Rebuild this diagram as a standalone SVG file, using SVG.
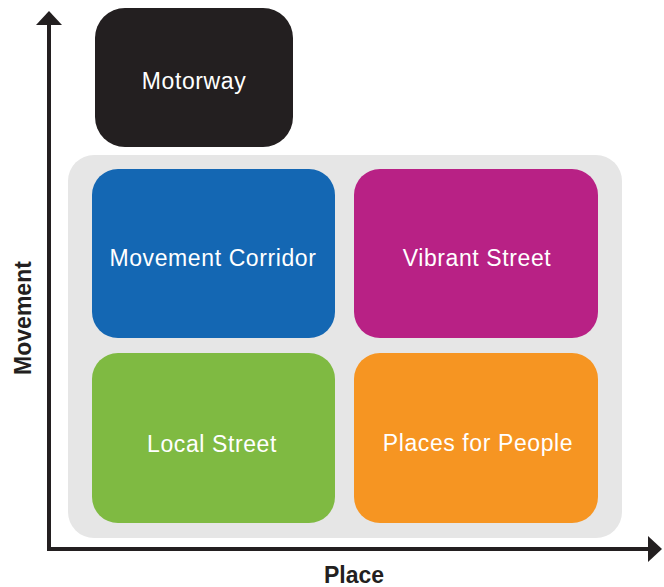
<svg xmlns="http://www.w3.org/2000/svg" width="664" height="587" viewBox="0 0 664 587">
<style>
.lbl{font-family:"Liberation Sans",Arial,Helvetica,sans-serif;font-size:23px;fill:#ffffff;text-anchor:middle;letter-spacing:0.6px}
.axl{font-family:"Liberation Sans",Arial,Helvetica,sans-serif;font-size:23px;font-weight:bold;fill:#231f20;text-anchor:middle}
.ax{stroke:#231f20;stroke-width:4;fill:none}
</style>
<defs>
<marker id="arr" markerUnits="userSpaceOnUse" viewBox="0 0 14 26" markerWidth="14" markerHeight="26" refX="1" refY="13" orient="auto">
<path d="M0,0 L14,13 L0,26 Z" fill="#231f20"/>
</marker>
</defs>
<rect id="background" x="68" y="155" width="554" height="383" rx="26" fill="#e6e6e6"/>
<g id="motorway">
<rect x="95" y="8" width="198" height="139" rx="30" fill="#231f20"/>
<text class="lbl" x="194" y="89">Motorway</text>
</g>
<g id="movement-corridor">
<rect x="92" y="169" width="243" height="169" rx="26" fill="#1467b3"/>
<text class="lbl" x="213" y="266">Movement Corridor</text>
</g>
<g id="vibrant-street">
<rect x="354" y="169" width="244" height="169" rx="26" fill="#b82185"/>
<text class="lbl" x="477" y="266">Vibrant Street</text>
</g>
<g id="local-street">
<rect x="92" y="353" width="243" height="170" rx="26" fill="#7fba42"/>
<text class="lbl" x="212" y="452">Local Street</text>
</g>
<g id="places-for-people">
<rect x="354" y="353" width="244" height="170" rx="26" fill="#f69522"/>
<text class="lbl" x="478" y="451">Places for People</text>
</g>
<g id="connectors">
<path class="ax" d="M49,551 L49,24" marker-end="url(#arr)"/>
<path class="ax" d="M47,549 L649,549" marker-end="url(#arr)"/>
</g>
<text class="axl" transform="translate(31,318) rotate(-90)" x="0" y="0">Movement</text>
<text class="axl" x="354" y="583">Place</text>
</svg>
